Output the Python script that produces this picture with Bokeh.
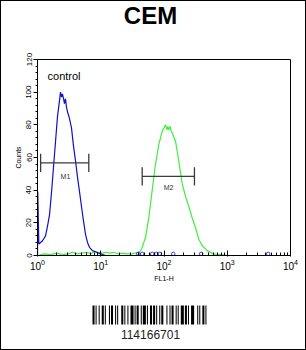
from bokeh.plotting import figure
from bokeh.layouts import column
from bokeh.models import Range1d, SingleIntervalTicker, LogTicker
from bokeh.core.properties import value
from bokeh.embed import file_html
from bokeh.resources import INLINE

# ---------------- data ----------------
title_text = "CEM"
control_label = "control"
barcode_text = "114166701"

blue_x = [1.00, 1.01, 1.03, 1.05, 1.20, 1.34, 1.44, 1.55, 1.66, 1.79, 1.93, 2.07, 2.23,
          2.31, 2.40, 2.48, 2.58, 2.67, 2.77, 2.87, 2.98, 3.20, 3.45, 3.71, 3.99, 4.29,
          4.62, 4.96, 5.34, 5.74, 6.17, 6.64, 7.40, 8.57, 9.9, 11.9, 20, 50, 100, 500,
          1000, 5000, 10000]
blue_y = [0, 39, 22, 7, 9, 12, 18, 25, 38, 54, 70, 85, 95,
          100, 97, 99, 96, 93, 96, 91, 88, 84, 78, 67, 58, 48,
          39, 30, 21, 13, 8, 5, 3, 2, 1, 0, 0, 0, 0, 0,
          0, 0, 0]

blue_dots_x = [39.1, 45.2, 65.1, 75.4, 85.7, 140, 387, 4440]
blue_dots_y = [1, 1, 1, 1, 1, 1, 1, 1]

green_x = [1.00, 1.3, 1.6, 2.0, 2.5, 3.0, 3.6, 4.2, 5.0, 6.0, 7.0, 8.0, 9.0, 10.5,
           12, 14, 16, 19, 22, 26, 30, 35, 40, 43, 45.2, 51.0, 57.5, 65.1, 73.4,
           82.8, 93.7, 100, 105.6, 111, 115, 119, 125, 130, 135, 152, 171, 194,
           219, 247, 279, 315, 355, 402, 482, 607, 800, 1000, 2000, 5000, 10000]
green_y = [0, 1, 0.5, 1.5, 0.5, 1, 2, 1, 1.5, 2, 1, 2.5, 2, 1.5,
           2, 1.5, 2, 1, 1.5, 1, 1, 1.5, 2, 3, 5, 11, 23, 40, 56,
           68, 76, 78, 80, 77, 79, 77, 79, 76, 75, 70, 58, 44,
           36, 30, 23, 17, 10, 6, 3, 1, 0.5, 0, 0, 0, 0]

marker_names = ["M1", "M2"]
marker_lo = [1.12, 45.2]
marker_hi = [6.47, 303.0]
marker_y = [56.7, 48.4]
marker_label_x = [2.77, 118.0]
marker_label_y = [48.4, 41.6]

# barcode bar/space widths (alternating, starting with a bar)
barcode_widths = [2, 1, 1, 2, 1, 2, 2, 1, 1, 3, 1, 1, 2, 2, 1, 1, 1, 3, 2, 1, 1, 2, 1, 2,
                  3, 1, 1, 1, 2, 2, 1, 1, 3, 1, 1, 2, 2, 1, 2, 1, 1, 2, 1, 1, 2, 3, 1, 2,
                  1, 1, 2, 2, 1, 1, 1, 2, 3, 1, 2, 1, 1, 2, 3, 3, 1, 1, 1, 2, 2, 1, 1, 2]

FONT = "Liberation Sans"
BLUE = "#1010c8"
GREEN = "#3cf03c"


def blank(height, y_end):
    f = figure(width=304, height=height, x_range=Range1d(0, 253), y_range=Range1d(0, y_end),
               output_backend="svg", toolbar_location=None,
               min_border_left=36, min_border_right=15,
               min_border_top=0, min_border_bottom=0)
    f.axis.visible = False
    f.grid.visible = False
    f.outline_line_color = None
    f.background_fill_color = "white"
    f.border_fill_color = "white"
    return f


# ---------------- title strip ----------------
t = blank(40, 40)
# frames are aligned across the column; page centre x=150 -> frame x=113
t.text(x=[113], y=[26], text=[title_text], text_font=value(FONT), text_font_size="24px",
       text_font_style="bold", text_color="black", text_align="center",
       text_baseline="middle")

# ---------------- main plot ----------------
p = figure(width=304, height=244, x_axis_type="log",
           x_range=Range1d(1, 10000), y_range=Range1d(0, 120),
           output_backend="svg", toolbar_location=None,
           min_border_left=36, min_border_right=15,
           min_border_top=18, min_border_bottom=30)
p.background_fill_color = "white"
p.border_fill_color = "white"
p.grid.visible = False
p.outline_line_color = "black"
p.outline_line_width = 1

p.line(green_x, green_y, line_color=GREEN, line_width=1.2)
p.line(blue_x, blue_y, line_color=BLUE, line_width=1.2)
p.scatter(blue_dots_x, blue_dots_y, marker="circle", size=3.5,
          fill_color=None, line_color=BLUE, line_width=0.8)

# gates
for lo, hi, yv, nm, lx, ly in zip(marker_lo, marker_hi, marker_y, marker_names,
                                   marker_label_x, marker_label_y):
    p.segment(x0=[lo], y0=[yv], x1=[hi], y1=[yv], line_color="#3a3a3a", line_width=1.3)
    p.segment(x0=[lo, hi], y0=[yv - 5.6, yv - 5.6], x1=[lo, hi], y1=[yv + 5.6, yv + 5.6],
              line_color="#3a3a3a", line_width=1.3)
    p.text(x=[lx], y=[ly], text=[nm], text_font=value(FONT), text_font_size="7px",
           text_color="#333333", text_align="center", text_baseline="middle")

p.text(x=[1.44], y=[109.6], text=[control_label], text_font=value(FONT),
       text_font_size="11px", text_color="black", text_align="left",
       text_baseline="middle")

# axes
p.yaxis.ticker = SingleIntervalTicker(interval=20, num_minor_ticks=5)
p.yaxis.major_label_orientation = "vertical"
p.yaxis.major_tick_out = 4
p.yaxis.major_tick_in = 0
p.yaxis.minor_tick_out = 2
p.yaxis.minor_tick_in = 0
p.yaxis.axis_label = "Counts"

p.xaxis.ticker = LogTicker(num_minor_ticks=10)
p.xaxis.major_tick_in = 5
p.xaxis.major_tick_out = 1
p.xaxis.minor_tick_in = 3
p.xaxis.minor_tick_out = 0
p.xaxis.axis_label = "FL1-H"

for ax in (p.xaxis, p.yaxis):
    ax.axis_line_color = "black"
    ax.major_tick_line_color = "black"
    ax.minor_tick_line_color = "black"
    ax.major_label_text_font = FONT
    ax.major_label_text_color = "black"
    ax.major_label_standoff = 2
    ax.axis_label_text_font = FONT
    ax.axis_label_text_font_size = "7px"
    ax.axis_label_text_font_style = "normal"
    ax.axis_label_text_color = "black"
    ax.axis_label_standoff = 2
p.xaxis.major_label_text_font_size = "10px"
p.yaxis.major_label_text_font_size = "8px"

# ---------------- barcode ----------------
b = blank(64, 64)
total = sum(barcode_widths)
bc_left, bc_width = 55.0, 116.0
scale = bc_width / total
lefts, rights = [], []
pos = 0
for i, w in enumerate(barcode_widths):
    if i % 2 == 0:
        lefts.append(bc_left + pos * scale)
        rights.append(bc_left + (pos + w) * scale)
    pos += w
b.quad(left=lefts, right=rights, bottom=25, top=44, fill_color="black", line_color=None)
b.text(x=[bc_left + bc_width / 2], y=[15], text=[barcode_text], text_font=value(FONT),
       text_font_size="12px", text_color="#222222", text_align="center",
       text_baseline="middle")

layout = column(t, p, b, spacing=0, styles={"border": "1px solid black"})
open("out.html", "w").write(file_html(layout, INLINE))
